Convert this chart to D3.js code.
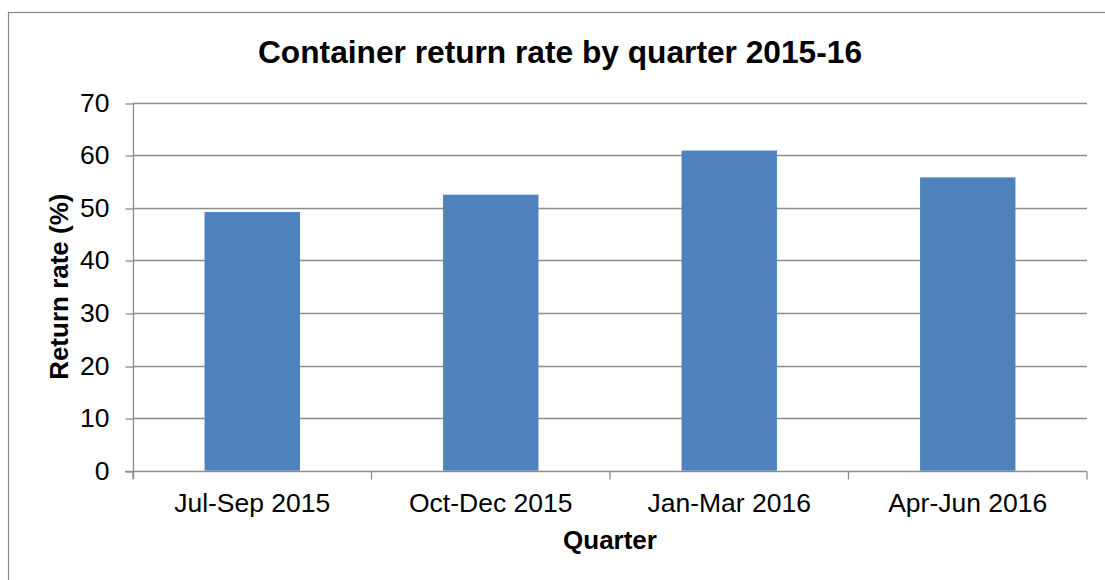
<!DOCTYPE html>
<html>
<head>
<meta charset="utf-8">
<script src="https://cdn.jsdelivr.net/npm/d3@7"></script>
<style>
  body { margin: 0; background: #fff; }
  svg { display: block; font-family: "Liberation Sans", Arial, sans-serif; }
</style>
</head>
<body>
<script>
const WIDTH = 1105;
const HEIGHT = 580;

// chart data
const quarters = ["Jul-Sep 2015", "Oct-Dec 2015", "Jan-Mar 2016", "Apr-Jun 2016"];
const returnRates = [49.2, 52.5, 60.9, 55.8];
const yTicks = [0, 10, 20, 30, 40, 50, 60, 70];

const margin = {left: 133, right: 18, top: 102.7, bottom: 109.3};

const svg = d3.select("body")
              .append("svg")
              .attr("width", WIDTH)
              .attr("height", HEIGHT);

// outer frame (only left and top edges fall inside the picture)
svg.append("rect")
   .attr("x", 8.5)
   .attr("y", 12.5)
   .attr("width", 1300)
   .attr("height", 800)
   .attr("fill", "none")
   .attr("stroke", "#8a8a8a")
   .attr("stroke-width", 1.2);

const x = d3.scaleBand()
            .domain(quarters)
            .range([margin.left, WIDTH - margin.right])
            .paddingInner(0.6)
            .paddingOuter(0.3);

const xCat = d3.scaleBand()
               .domain(quarters)
               .range([margin.left, WIDTH - margin.right]);

const y = d3.scaleLinear()
            .domain([0, 70])
            .range([HEIGHT - margin.bottom, margin.top]);

const gridColor = "#8c8c8c";

// gridlines
svg.append("g")
   .selectAll("line")
   .data(yTicks.filter(d => d > 0))
   .join("line")
   .attr("x1", margin.left)
   .attr("x2", WIDTH - margin.right)
   .attr("y1", d => Math.round(y(d)) + 0.5)
   .attr("y2", d => Math.round(y(d)) + 0.5)
   .attr("stroke", gridColor)
   .attr("stroke-width", 1.3);

// bars
svg.append("g")
   .selectAll("rect")
   .data(quarters)
   .join("rect")
   .attr("x", d => x(d))
   .attr("y", (d, i) => y(returnRates[i]))
   .attr("width", x.bandwidth())
   .attr("height", (d, i) => y(0) - y(returnRates[i]))
   .attr("fill", "#4f81bd");

// y axis
const yAxis = d3.axisLeft(y)
                .tickValues(yTicks)
                .tickSize(8)
                .tickPadding(16)
                .tickSizeOuter(0);

const gy = svg.append("g")
              .attr("transform", `translate(${margin.left + 0.5},0)`)
              .call(yAxis);
gy.select(".domain").remove();
gy.append("line")
  .attr("y1", margin.top)
  .attr("y2", y(0) + 8)
  .attr("stroke", gridColor)
  .attr("stroke-width", 1.3);
gy.selectAll(".tick line")
  .attr("stroke", gridColor)
  .attr("stroke-width", 1.3)
  .attr("transform", d => `translate(0,${Math.round(y(d)) + 0.5 - y(d)})`);
gy.selectAll(".tick text")
  .attr("fill", "#000")
  .attr("font-size", 26.5)
  .attr("font-family", "Liberation Sans, Arial, sans-serif");

// x axis
const gx = svg.append("g")
              .attr("transform", `translate(0,${Math.round(y(0)) + 0.5})`);
gx.append("line")
  .attr("x1", margin.left - 8)
  .attr("x2", WIDTH - margin.right)
  .attr("stroke", gridColor)
  .attr("stroke-width", 1.3);
gx.selectAll(".cat-tick")
  .data(quarters.map(d => xCat(d)).concat([WIDTH - margin.right]))
  .join("line")
  .attr("class", "cat-tick")
  .attr("x1", d => d)
  .attr("x2", d => d)
  .attr("y1", 0)
  .attr("y2", 8)
  .attr("stroke", gridColor)
  .attr("stroke-width", 1.3);
gx.selectAll("text")
  .data(quarters)
  .join("text")
  .attr("x", d => xCat(d) + xCat.bandwidth() / 2)
  .attr("y", 40)
  .attr("text-anchor", "middle")
  .attr("font-size", 26.5)
  .text(d => d);

// titles
svg.append("text")
   .attr("x", 560)
   .attr("y", 63)
   .attr("text-anchor", "middle")
   .attr("font-size", 31.7)
   .attr("font-weight", "bold")
   .text("Container return rate by quarter 2015-16");

svg.append("text")
   .attr("x", (margin.left + WIDTH - margin.right) / 2)
   .attr("y", 549)
   .attr("text-anchor", "middle")
   .attr("font-size", 26)
   .attr("font-weight", "bold")
   .text("Quarter");

svg.append("text")
   .attr("transform", `translate(68,${(y(0) + y(70)) / 2}) rotate(-90)`)
   .attr("text-anchor", "middle")
   .attr("font-size", 26)
   .attr("font-weight", "bold")
   .text("Return rate (%)");
</script>
</body>
</html>
